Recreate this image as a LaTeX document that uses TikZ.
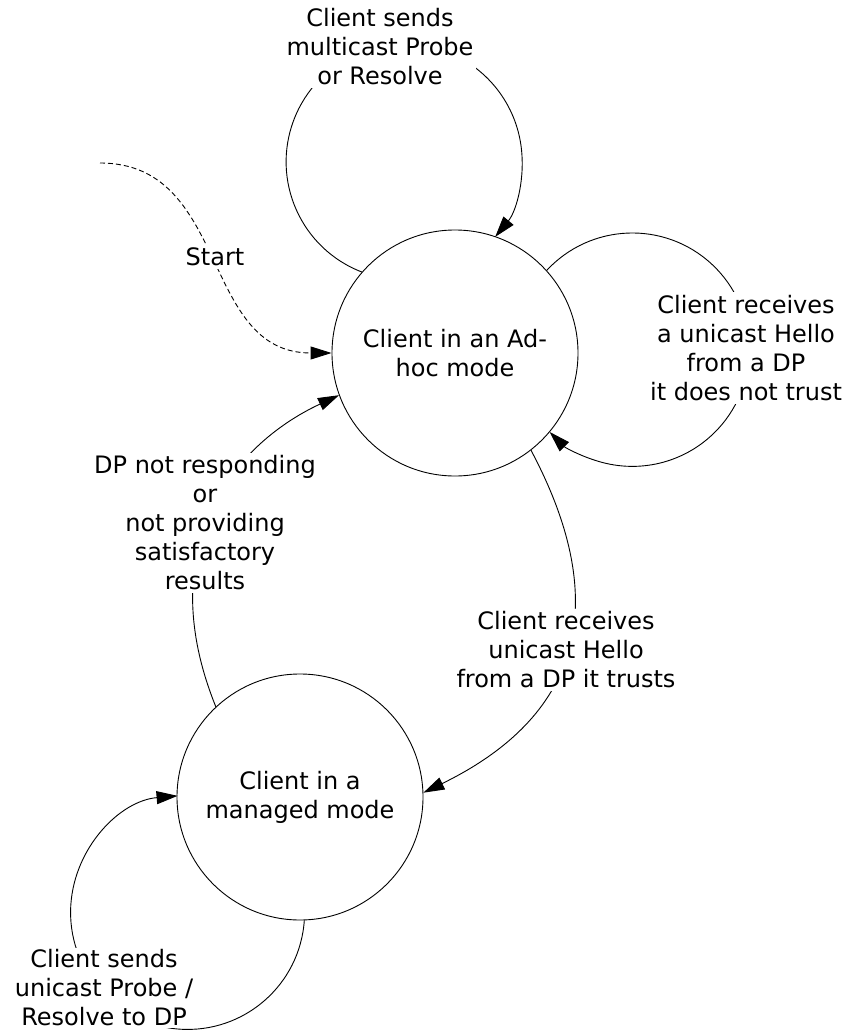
\documentclass[tikz,border=0pt]{standalone}
\usepackage{fontspec}
\setmainfont{DejaVu Sans}
\usetikzlibrary{arrows.meta}
\begin{document}
\begin{tikzpicture}[x=1pt,y=1pt,
  every node/.style={font=\fontsize{24}{29}\selectfont},
  state/.style={circle,draw,line width=0.9pt,minimum size=246pt,inner sep=0pt,align=center},
  lbl/.style={fill=white,align=center,inner sep=3pt},
  conn/.style={line width=0.9pt,-{Triangle[length=21pt,width=13pt]}},
  startline/.style={conn,dash pattern=on 5pt off 3pt}
]
\useasboundingbox[fill=white] (0,0) rectangle (849,-1032);

\node[state] (adhoc) at (455,-353) {Client in an Ad-\\hoc mode};
\node[state] (managed) at (300,-797) {Client in a\\managed mode};
\coordinate (startpt) at (100,-163);

% connectors
\draw[startline] (startpt) .. controls (230,-163) and (200,-353) .. (adhoc.180);
\draw[conn] (adhoc.139) arc[start angle=249, end angle=-39.5, radius=118pt];
\draw[conn] (adhoc.42) arc[start angle=137.2, end angle=-135.2, radius=116.7pt];
\draw[conn] (adhoc.-52) .. controls +(-62:190pt) and +(26:160pt) .. (managed.2);
\draw[conn] (managed.133) .. controls +(112:170pt) and +(205:120pt) .. (adhoc.200);
\draw[conn] (managed.-88.2) arc[start angle=-3.9, end angle=-265.1, radius=117pt];

% labels
\node[lbl] (l1) at (380,-47) {Client sends\\multicast Probe\\or Resolve};
\node[lbl] (lstart) at (215,-257) {Start};
\node[lbl] (l2) at (746,-348) {Client receives\\a unicast Hello\\from a DP\\it does not trust};
\node[lbl] (l3) at (205,-523) {DP not responding\\or\\not providing\\satisfactory\\results};
\node[lbl] (l4) at (566,-650) {Client receives\\unicast Hello\\from a DP it trusts};
\node[lbl,inner sep=1.5pt] (l5) at (104,-988) {Client sends\\unicast Probe /\\Resolve to DP};
\end{tikzpicture}
\end{document}
